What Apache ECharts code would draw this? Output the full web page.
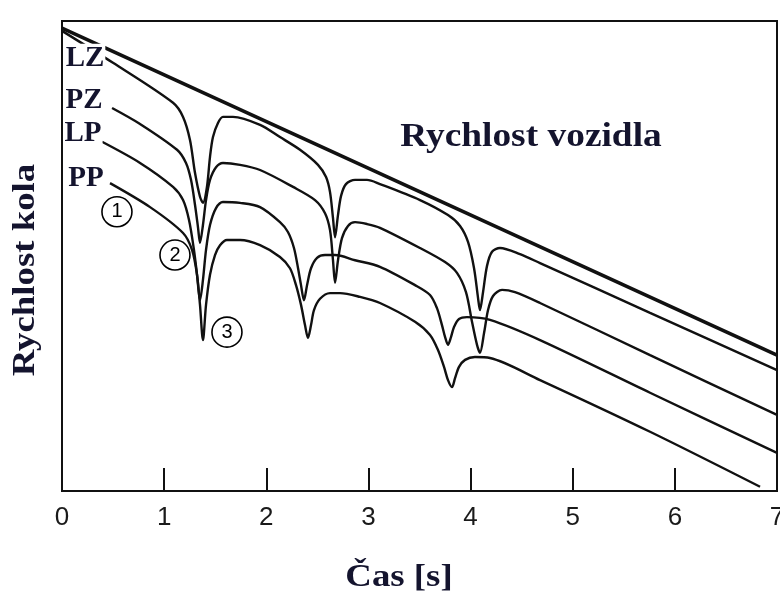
<!DOCTYPE html>
<html>
<head>
<meta charset="utf-8">
<script src="https://cdn.jsdelivr.net/npm/echarts@6/dist/echarts.min.js"></script>
<style>
html,body{margin:0;padding:0;background:#fff;}
#c{width:780px;height:596px;}
</style>
</head>
<body>
<div id="c"></div>
<script>
// Time axis ticks [s]
const xTicks = [0, 1, 2, 3, 4, 5, 6, 7];

// Vehicle speed (relative units, y axis 0..100)
const vehicle = [[0, 98.5], [7, 28.9]];

// Wheel speeds: [time s, speed]
const LZ = [[0,97.9],[0.499,91.1],[1.087,82.6],[1.185,79.6],[1.253,74.7],[1.302,67.7],[1.351,62.6],[1.380,61.3],[1.419,64.7],[1.449,71.1],[1.478,75.3],[1.527,78.3],[1.576,79.6],[1.674,79.6],[1.939,77.9],[2.134,75.3],[2.330,72.6],[2.506,69.4],[2.585,66.8],[2.624,63.6],[2.653,58.1],[2.673,54.0],[2.702,58.7],[2.732,62.8],[2.780,65.3],[2.869,66.2],[2.986,66.2],[3.113,65.3],[3.505,61.9],[3.779,58.7],[3.897,56.4],[3.975,53.0],[4.034,47.4],[4.073,41.1],[4.092,38.5],[4.122,42.3],[4.161,47.9],[4.210,50.9],[4.288,51.7],[4.484,50.4],[4.680,48.5],[5.757,37.9],[7.0,25.7]];

const PZ = [[0.490,81.5],[0.764,78.1],[1.126,72.6],[1.214,69.8],[1.263,66.2],[1.302,60.9],[1.332,56.0],[1.351,52.8],[1.380,56.6],[1.410,61.9],[1.449,66.2],[1.508,68.9],[1.576,69.8],[1.743,69.4],[1.939,68.3],[2.262,64.7],[2.477,61.9],[2.575,59.1],[2.624,55.5],[2.653,49.1],[2.673,44.3],[2.702,49.1],[2.741,53.8],[2.800,56.4],[2.869,57.2],[2.986,56.8],[3.113,56.0],[3.505,51.7],[3.750,48.7],[3.867,46.4],[3.955,42.3],[4.014,36.0],[4.063,31.1],[4.092,29.4],[4.132,33.6],[4.171,38.5],[4.220,41.5],[4.308,42.8],[4.435,42.3],[4.680,40.0],[5.757,28.9],[7.0,16.2]];

const LP = [[0.392,74.3],[0.764,69.8],[1.087,64.7],[1.185,61.9],[1.243,57.7],[1.292,51.3],[1.322,46.0],[1.351,40.6],[1.380,44.9],[1.410,51.3],[1.449,56.6],[1.508,60.2],[1.576,61.5],[1.743,61.3],[1.939,60.4],[2.134,57.2],[2.212,55.1],[2.271,51.7],[2.311,47.4],[2.340,43.8],[2.369,40.6],[2.399,43.8],[2.438,47.4],[2.497,49.6],[2.575,50.2],[2.673,50.2],[2.869,49.1],[3.113,47.7],[3.456,43.8],[3.603,41.7],[3.671,38.9],[3.720,35.3],[3.750,32.8],[3.779,31.1],[3.809,32.8],[3.838,34.9],[3.887,36.6],[3.965,37.0],[4.190,36.4],[4.680,32.1],[5.757,20.9],[7.0,8.1]];

const PP = [[0.470,65.5],[0.862,60.4],[1.185,54.9],[1.273,51.3],[1.322,46.0],[1.351,39.6],[1.380,32.1],[1.410,39.6],[1.449,46.0],[1.498,50.2],[1.547,52.3],[1.615,53.4],[1.743,53.4],[1.939,52.3],[2.134,49.8],[2.232,47.4],[2.291,43.8],[2.340,39.6],[2.379,35.3],[2.408,32.6],[2.438,35.3],[2.467,38.5],[2.526,40.9],[2.624,42.1],[2.722,42.1],[2.918,41.3],[3.113,40.0],[3.456,36.0],[3.603,33.2],[3.681,30.0],[3.740,26.4],[3.779,23.6],[3.818,22.1],[3.848,24.0],[3.887,26.4],[3.946,27.9],[4.043,28.5],[4.190,28.3],[4.680,23.6],[5.757,12.6],[6.834,0.9]];

// Curve labels (anchor in data coords) and circled phase markers
const curveLabels = [["LZ", 0.225, 92.1], ["PZ", 0.215, 83.0], ["LP", 0.206, 76.0], ["PP", 0.235, 66.4]];
const phaseMarks = [["1", 0.538, 59.4], ["2", 1.106, 50.2], ["3", 1.615, 33.8]];

const textColor = '#14142e';
const lineColor = '#111';

const chart = echarts.init(document.getElementById('c'), null, {renderer: 'canvas'});

function wheel(name, data) {
  return {
    name: name, type: 'line', data: data, smooth: 0.3, symbol: 'none',
    lineStyle: {color: lineColor, width: 2.4}, z: 3
  };
}

const option = {
  animation: false,
  backgroundColor: '#fff',
  grid: {left: 62, right: 3, top: 21, bottom: 105, show: true, borderColor: lineColor, borderWidth: 2,
         containLabel: false, outerBoundsMode: 'none'},
  xAxis: {
    type: 'value', min: xTicks[0], max: xTicks[xTicks.length - 1], interval: 1,
    axisLine: {show: true, lineStyle: {color: lineColor, width: 2}},
    axisTick: {show: true, inside: true, length: 23, lineStyle: {color: lineColor, width: 2}},
    axisLabel: {show: true, margin: 14, fontSize: 26, color: '#1a1a1a', fontFamily: 'Liberation Sans',
      hideOverlap: false,
      formatter: function (v) { return xTicks.indexOf(v) >= 0 ? String(v) : ''; }},
    splitLine: {show: false}
  },
  yAxis: {
    type: 'value', min: 0, max: 100,
    axisLine: {show: false}, axisTick: {show: false}, axisLabel: {show: false}, splitLine: {show: false}
  },
  series: [
    {name: 'Rychlost vozidla', type: 'line', data: vehicle, symbol: 'none',
     lineStyle: {color: lineColor, width: 3.6}, z: 4},
    wheel('LZ', LZ), wheel('PZ', PZ), wheel('LP', LP), wheel('PP', PP),
    {name: 'labels', type: 'scatter', symbolSize: 1, itemStyle: {color: 'rgba(0,0,0,0)', opacity: 1}, z: 6,
     data: curveLabels.map(d => ({value: [d[1], d[2]], name: d[0]})),
     label: {show: true, position: 'inside', formatter: p => p.name, fontFamily: 'Liberation Serif',
       fontWeight: 'bold', fontSize: 29, color: textColor, opacity: 1, textBorderWidth: 0,
       backgroundColor: '#fff', padding: [0, 1]}},
    {name: 'phases', type: 'scatter', symbol: 'circle', symbolSize: 30, z: 5,
     itemStyle: {color: 'rgba(255,255,255,0)', borderColor: '#000', borderWidth: 1.6, opacity: 1},
     data: phaseMarks.map(d => ({value: [d[1], d[2]], name: d[0]})),
     label: {show: true, position: 'inside', formatter: p => p.name, fontFamily: 'Liberation Sans',
       fontSize: 20, color: '#000', opacity: 1, textBorderWidth: 0}}
  ],
  graphic: [
    {type: 'text', x: 531, y: 137, scaleX: 1.1, z: 10,
     style: {text: 'Rychlost vozidla', fontFamily: 'Liberation Serif', fontWeight: 'bold', fontSize: 34,
       fill: textColor, align: 'center', verticalAlign: 'middle'}},
    {type: 'text', x: 26, y: 270, rotation: Math.PI / 2, scaleX: 1.15, z: 10,
     style: {text: 'Rychlost kola', fontFamily: 'Liberation Serif', fontWeight: 'bold', fontSize: 32,
       fill: textColor, align: 'center', verticalAlign: 'middle'}},
    {type: 'text', x: 399, y: 578, scaleX: 1.15, z: 10,
     style: {text: 'Čas [s]', fontFamily: 'Liberation Serif', fontWeight: 'bold', fontSize: 32,
       fill: textColor, align: 'center', verticalAlign: 'middle'}}
  ]
};
chart.setOption(option);
</script>
</body>
</html>
